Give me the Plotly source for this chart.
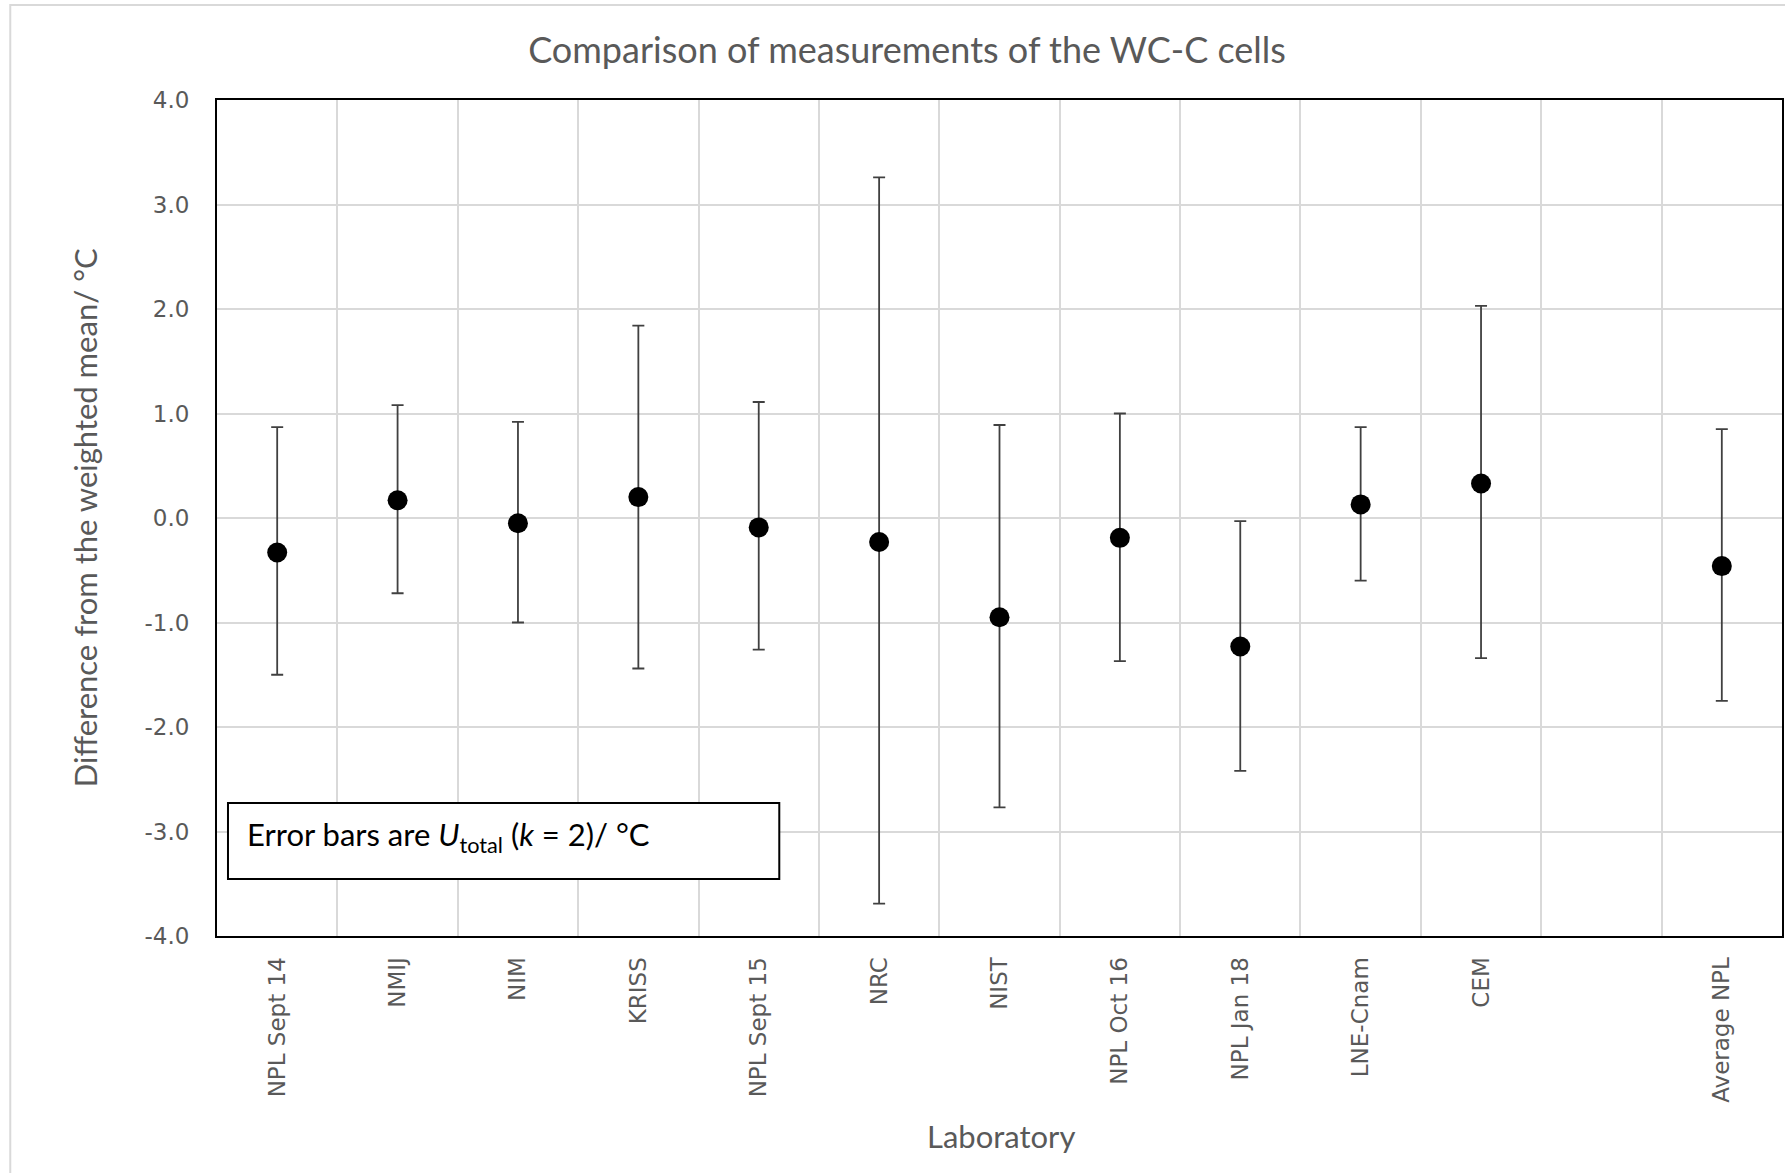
import plotly.graph_objects as go

# ---- data ----
categories = ["NPL Sept 14", "NMIJ", "NIM", "KRISS", "NPL Sept 15", "NRC", "NIST",
              "NPL Oct 16", "NPL Jan 18", "LNE-Cnam", "CEM", " ", "Average NPL"]
labs = ["NPL Sept 14", "NMIJ", "NIM", "KRISS", "NPL Sept 15", "NRC", "NIST",
        "NPL Oct 16", "NPL Jan 18", "LNE-Cnam", "CEM", "Average NPL"]
diff = [-0.33, 0.17, -0.05, 0.20, -0.09, -0.23, -0.95, -0.19, -1.23, 0.13, 0.33, -0.46]
upper = [0.87, 1.08, 0.92, 1.84, 1.11, 3.26, 0.89, 1.00, -0.03, 0.87, 2.03, 0.85]
lower = [-1.50, -0.72, -1.00, -1.44, -1.26, -3.69, -2.77, -1.37, -2.42, -0.60, -1.34, -1.75]
y_ticks = [-4.0, -3.0, -2.0, -1.0, 0.0, 1.0, 2.0, 3.0, 4.0]
y_ticktext = ["-4.0", "-3.0", "-2.0", "-1.0", "0.0", "1.0", "2.0", "3.0", "4.0"]

err_plus = [u - d for u, d in zip(upper, diff)]
err_minus = [d - l for d, l in zip(diff, lower)]

W, H = 1785, 1173
L, R, T, B = 217, 1784, 100, 936

def px(x):
    return (x - L) / (R - L)

def py(y):
    return (B - y) / (B - T)

TITLE_FONT = "Lato"
TICK_FONT = "DejaVu Sans"
GREY = "#595959"

fig = go.Figure()
fig.add_trace(go.Scatter(
    x=labs, y=diff, mode="markers",
    marker=dict(color="black", size=20, symbol="circle"),
    error_y=dict(type="data", symmetric=False, array=err_plus, arrayminus=err_minus,
                 color="#404040", thickness=1.8, width=6),
    showlegend=False,
))

fig.update_layout(
    width=W, height=H,
    margin=dict(l=L, r=W - R, t=T, b=H - B),
    paper_bgcolor="white", plot_bgcolor="white",
    title=dict(text="Comparison of measurements of the WC-C cells",
               x=907 / W, xref="container", xanchor="center",
               y=1 - 50 / H, yref="container", yanchor="middle",
               font=dict(family=TITLE_FONT, size=36, color=GREY)),
    xaxis=dict(
        type="category", categoryorder="array", categoryarray=categories,
        range=[-0.5, len(categories) - 0.5],
        tickson="boundaries", showgrid=True, gridcolor="#d9d9d9", gridwidth=1.5,
        ticks="", tickangle=-90, ticklabelstandoff=10,
        tickfont=dict(family=TICK_FONT, size=23, color=GREY),
        showline=True, linecolor="black", linewidth=2, mirror=True,
    ),
    yaxis=dict(
        range=[-4, 4], tickvals=y_ticks, ticktext=y_ticktext,
        showgrid=True, gridcolor="#d9d9d9", gridwidth=1.5, zeroline=False,
        ticks="", ticklabelstandoff=21,
        tickfont=dict(family=TICK_FONT, size=23, color=GREY),
        showline=True, linecolor="black", linewidth=2, mirror=True,
    ),
    shapes=[
        dict(type="rect", xref="paper", yref="paper",
             x0=px(228), x1=px(780), y0=py(879), y1=py(803),
             line=dict(color="black", width=2), fillcolor="white", layer="above"),
        dict(type="rect", xref="paper", yref="paper",
             x0=px(10), x1=px(1800), y0=py(1200), y1=py(5),
             line=dict(color="#d9d9d9", width=2), fillcolor="rgba(0,0,0,0)", layer="below"),
    ],
    annotations=[
        dict(text="Error bars are <i>U</i><sub>total</sub> (<i>k</i> = 2)/ °C",
             xref="paper", yref="paper", x=px(245), y=py(836),
             xanchor="left", yanchor="middle", showarrow=False,
             font=dict(family=TITLE_FONT, size=31, color="black")),
        dict(text="Laboratory", xref="paper", yref="paper",
             x=px(1002), y=py(1136), xanchor="center", yanchor="middle",
             showarrow=False, font=dict(family=TITLE_FONT, size=31, color=GREY)),
        dict(text="Difference from the weighted mean/ °C", xref="paper", yref="paper",
             x=px(85), y=py(518), xanchor="center", yanchor="middle", textangle=-90,
             showarrow=False, font=dict(family=TITLE_FONT, size=31, color=GREY)),
    ],
)

fig.write_html("out.html", config={"displayModeBar": False},
               post_script="document.body.style.margin='0';")
